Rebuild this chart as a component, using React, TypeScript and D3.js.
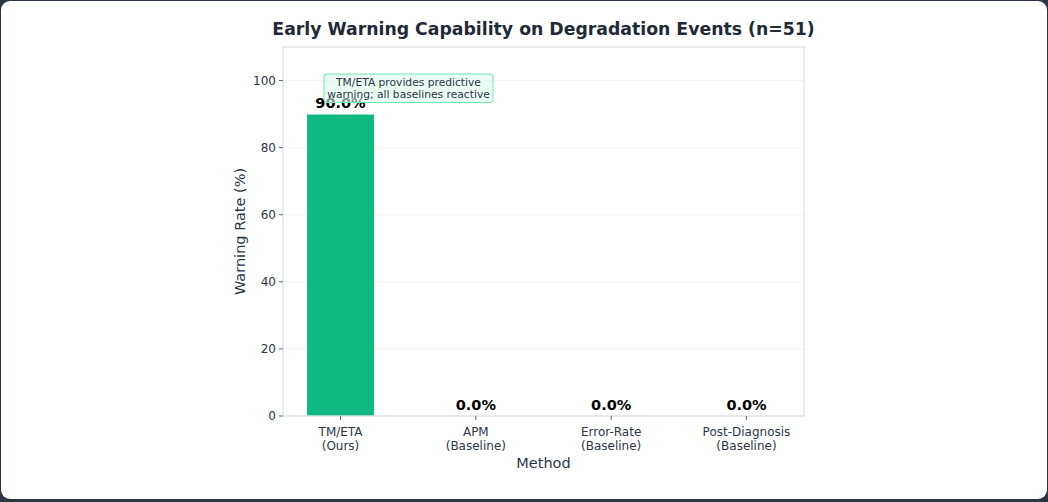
import React, { useEffect, useRef } from 'react';
import * as d3 from 'd3';

const methods = ['TM/ETA\n(Ours)', 'APM\n(Baseline)', 'Error-Rate\n(Baseline)', 'Post-Diagnosis\n(Baseline)'];
const warningRates = [90.0, 0.0, 0.0, 0.0];
const yTicks = [0, 20, 40, 60, 80, 100];

const WIDTH = 1048;
const HEIGHT = 502;
const FONT = 'DejaVu Sans, sans-serif';

const App: React.FC = () => {
  const svgRef = useRef<SVGSVGElement>(null);

  useEffect(() => {
    if (!svgRef.current) return;
    const svg = d3.select(svgRef.current);
    svg.selectAll('*').remove();

    // page frame
    svg.append('rect').attr('width', WIDTH).attr('height', HEIGHT).attr('fill', '#2b3544');
    svg.append('rect')
      .attr('x', 1).attr('y', 1).attr('width', WIDTH - 2).attr('height', HEIGHT - 4)
      .attr('rx', 9).attr('fill', '#ffffff');

    const left = 283, right = 804, top = 47, bottom = 416;

    const x = d3.scaleLinear().domain([-0.425, methods.length - 1 + 0.425]).range([left, right]);
    const y = d3.scaleLinear().domain([0, 110]).range([bottom, top]);
    const barW = x(0.25) - x(-0.25);

    // grid
    svg.append('g').selectAll('line').data(yTicks).enter().append('line')
      .attr('x1', left).attr('x2', right)
      .attr('y1', d => y(d)).attr('y2', d => y(d))
      .attr('stroke', '#eef0f6').attr('stroke-width', 0.8);

    // bars
    svg.append('g').selectAll('rect').data(warningRates).enter().append('rect')
      .attr('x', (d, i) => x(i) - barW / 2)
      .attr('y', d => y(d))
      .attr('width', barW)
      .attr('height', d => bottom - y(d))
      .attr('fill', '#10b981')
      .attr('stroke', '#ffffff').attr('stroke-width', 0.8);

    // frame
    svg.append('rect')
      .attr('x', left).attr('y', top).attr('width', right - left).attr('height', bottom - top)
      .attr('fill', 'none').attr('stroke', '#d3d8e4').attr('stroke-width', 1);

    // y axis
    const yAxis = svg.append('g');
    yTicks.forEach(t => {
      yAxis.append('line').attr('x1', left - 4).attr('x2', left)
        .attr('y1', y(t)).attr('y2', y(t)).attr('stroke', '#3a4556').attr('stroke-width', 0.8);
      yAxis.append('text').attr('x', left - 7).attr('y', y(t)).attr('dy', '0.35em')
        .attr('text-anchor', 'end').attr('font-family', FONT).attr('font-size', 12)
        .attr('fill', '#2d3748').text(t);
    });

    // x axis
    const xAxis = svg.append('g');
    methods.forEach((m, i) => {
      xAxis.append('line').attr('x1', x(i)).attr('x2', x(i))
        .attr('y1', bottom).attr('y2', bottom + 4).attr('stroke', '#3a4556').attr('stroke-width', 0.8);
      m.split('\n').forEach((line, k) => {
        xAxis.append('text').attr('x', x(i)).attr('y', bottom + 20 + k * 14)
          .attr('text-anchor', 'middle').attr('font-family', FONT).attr('font-size', 12)
          .attr('fill', '#2d3748').text(line);
      });
    });

    // value labels
    svg.append('g').selectAll('text').data(warningRates).enter().append('text')
      .attr('x', (d, i) => x(i)).attr('y', d => y(d) - 6.5)
      .attr('text-anchor', 'middle').attr('font-family', FONT).attr('font-size', 14.5)
      .attr('font-weight', 'bold').attr('fill', '#000000')
      .text(d => `${d.toFixed(1)}%`);

    // annotation box sits over the top value label
    const ann = svg.append('g');
    ann.append('rect').attr('x', 324).attr('y', 74).attr('width', 169).attr('height', 28.5)
      .attr('rx', 3).attr('fill', '#dcf8ec').attr('fill-opacity', 0.6)
      .attr('stroke', '#6ee7b7').attr('stroke-width', 1);
    ['TM/ETA provides predictive', 'warning; all baselines reactive'].forEach((line, k) => {
      ann.append('text').attr('x', 408.5).attr('y', 86.3 + k * 11.3)
        .attr('text-anchor', 'middle').attr('font-family', FONT).attr('font-size', 10.7)
        .attr('fill', '#2d3748').text(line);
    });

    // titles
    svg.append('text').attr('x', 543.5).attr('y', 35).attr('text-anchor', 'middle')
      .attr('font-family', FONT).attr('font-size', 17.3).attr('font-weight', 'bold')
      .attr('fill', '#1f2937').text('Early Warning Capability on Degradation Events (n=51)');
    svg.append('text').attr('x', 543.5).attr('y', 468).attr('text-anchor', 'middle')
      .attr('font-family', FONT).attr('font-size', 14.5).attr('fill', '#2d3748').text('Method');
    svg.append('text')
      .attr('transform', `translate(240,${(top + bottom) / 2}) rotate(-90)`)
      .attr('text-anchor', 'middle').attr('dy', '0.35em')
      .attr('font-family', FONT).attr('font-size', 14.5).attr('fill', '#2d3748').text('Warning Rate (%)');
  }, []);

  return (
    <svg ref={svgRef} width={WIDTH} height={HEIGHT}
      style={{ position: 'absolute', left: 0, top: 0, display: 'block' }} />
  );
};

export default App;
